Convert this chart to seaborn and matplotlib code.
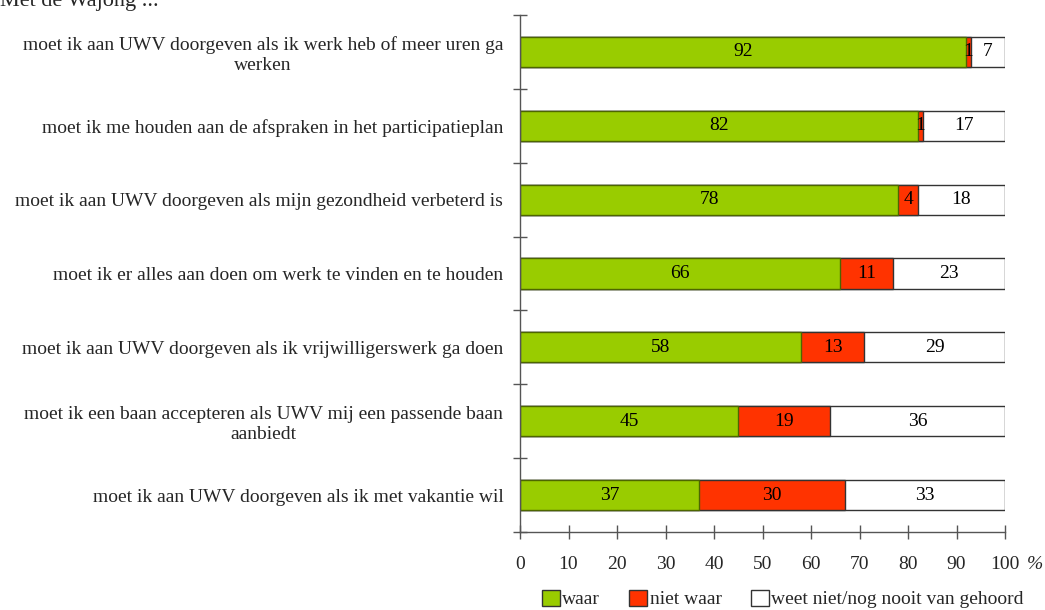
import matplotlib
matplotlib.use("Agg")
import matplotlib.pyplot as plt
import seaborn as sns
import pandas as pd
import numpy as np
from matplotlib.patches import Patch

categories = [
    "moet ik aan UWV doorgeven als ik werk heb of meer uren ga\nwerken",
    "moet ik me houden aan de afspraken in het participatieplan",
    "moet ik aan UWV doorgeven als mijn gezondheid verbeterd is",
    "moet ik er alles aan doen om werk te vinden en te houden",
    "moet ik aan UWV doorgeven als ik vrijwilligerswerk ga doen",
    "moet ik een baan accepteren als UWV mij een passende baan\naanbiedt",
    "moet ik aan UWV doorgeven als ik met vakantie wil",
]
waar = [92, 82, 78, 66, 58, 45, 37]
niet_waar = [1, 1, 4, 11, 13, 19, 30]
weet_niet = [7, 17, 18, 23, 29, 36, 33]
series_names = ["waar", "niet waar", "weet niet/nog nooit van gehoord"]
colors = ["#99CC00", "#FF3300", "#FFFFFF"]
x_ticks = [0, 10, 20, 30, 40, 50, 60, 70, 80, 90, 100]
title = "Met de Wajong ..."

sns.set_style("white")
plt.rcParams['font.family'] = ['Liberation Serif', 'DejaVu Serif']
plt.rcParams['xtick.bottom'] = True
plt.rcParams['ytick.left'] = True

df = pd.DataFrame({"cat": categories, "waar": waar, "niet": niet_waar, "weet": weet_niet})
df["c1"] = df["waar"]
df["c2"] = df["waar"] + df["niet"]
df["c3"] = df["c2"] + df["weet"]

fig = plt.figure(figsize=(10.45, 6.1), dpi=100)
ax = fig.add_axes([520/1045, 1-532/610, 485/1045, 517/610])

edges = ["#333333", "#333333", "#4D6600"]
for col, color, ec in zip(["c3", "c2", "c1"], colors[::-1], edges):
    sns.barplot(data=df, x=col, y="cat", orient="h", color=color, width=0.41,
                edgecolor=ec, linewidth=1.0, saturation=1, ax=ax)

fs = 14
for i, row in df.iterrows():
    segs = [(0, row["waar"]), (row["c1"], row["niet"]), (row["c2"], row["weet"])]
    for start, val in segs:
        ax.text(start + val/2, i, f"{val}", ha="center", va="center", fontsize=fs, color="black")

ax.set_xlim(0, 100)
ax.set_ylim(6.5, -0.5)
ax.set_xticks(x_ticks)
ax.set_xticklabels([str(t) for t in x_ticks], fontsize=fs)
ax.set_xlabel("")
ax.set_ylabel("")
ax.set_yticks(range(len(categories)))
ax.set_yticklabels(categories, fontsize=fs, multialignment="center")
ax.set_yticks(np.arange(-0.5, 7, 1), minor=True)
ax.tick_params(axis="y", which="major", length=0, pad=12)
ax.tick_params(axis="y", which="minor", left=True, direction="inout", length=10, width=1, color="#555555")
ax.tick_params(axis="x", which="major", bottom=True, direction="inout", length=10, width=1, color="#555555", pad=12)
for s in ["top", "right"]:
    ax.spines[s].set_visible(False)
for s in ["left", "bottom"]:
    ax.spines[s].set_color("#555555")
    ax.spines[s].set_linewidth(1)

ax.text(1.045, -0.062, "%", transform=ax.transAxes, ha="left", va="center", fontsize=fs, style="italic")
fig.text(0.0, 0.998, title, ha="left", va="center", fontsize=16)

handles = [Patch(facecolor=c, edgecolor="#333333", linewidth=1) for c in colors]
fig.legend(handles, series_names, loc="center", bbox_to_anchor=(783/1045, 1-599/610), ncol=3,
           frameon=False, fontsize=fs, handlelength=0.9, handleheight=0.9, handletextpad=0.15,
           columnspacing=1.5, borderaxespad=0)

fig.savefig("out.png", dpi=100)
